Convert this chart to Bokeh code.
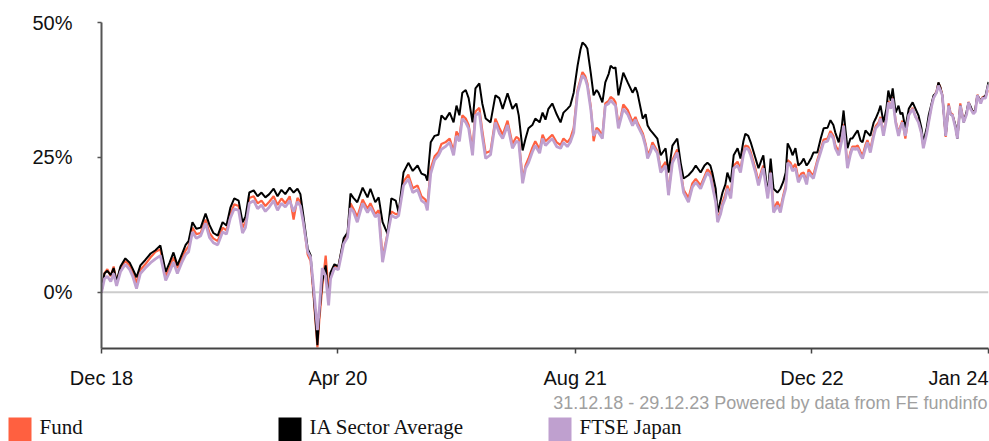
from bokeh.plotting import figure
from bokeh.models import Range1d, FixedTicker, Span
from bokeh.core.properties import value
from bokeh.embed import file_html
from bokeh.resources import INLINE
import pandas as pd

# ---------------- data ----------------
start_date = "2018-12-31"
end_date = "2023-12-29"

# days since start_date
days = [
    0, 6, 12, 19, 25, 31, 39, 49, 58, 64,
    72, 80, 90, 101, 111, 121, 132, 140, 148, 156,
    165, 173, 179, 187, 195, 204, 214, 222, 230, 239,
    249, 257, 265, 273, 282, 290, 296, 304, 313, 321,
    329, 337, 345, 354, 362, 370, 378, 387, 395, 403,
    409, 415, 424, 430, 436, 444, 448, 454, 461, 467,
    471, 479, 487, 498, 506, 512, 518, 526, 537, 547,
    553, 563, 570, 578, 588, 596, 605, 611, 621, 631,
    640, 650, 658, 666, 670, 677, 685, 693, 699, 707,
    716, 724, 730, 736, 742, 749, 755, 763, 769, 777,
    783, 790, 800, 810, 818, 825, 835, 845, 853, 858,
    866, 872, 878, 886, 892, 901, 907, 913, 919, 927,
    936, 944, 950, 958, 964, 971, 979, 985, 989, 995,
    999, 1006, 1012, 1018, 1022, 1030, 1036, 1043, 1047, 1053,
    1057, 1063, 1069, 1073, 1082, 1092, 1098, 1102, 1113, 1119,
    1123, 1129, 1133, 1143, 1150, 1160, 1166, 1174, 1184, 1191,
    1197, 1207, 1215, 1222, 1232, 1240, 1246, 1252, 1256, 1263,
    1267, 1273, 1277, 1283, 1287, 1294, 1300, 1308, 1314, 1320,
    1324, 1330, 1335, 1345, 1351, 1357, 1361, 1370, 1376, 1382,
    1390, 1396, 1402, 1407, 1411, 1417, 1421, 1427, 1433, 1439,
    1444, 1450, 1454, 1460, 1464, 1472, 1479, 1485, 1493, 1499,
    1505, 1509, 1516, 1522, 1526, 1530, 1534, 1540, 1544, 1551,
    1555, 1561, 1565, 1571, 1575, 1581, 1588, 1592, 1598, 1602,
    1608, 1614, 1618, 1623, 1627, 1633, 1639, 1643, 1647, 1653,
    1660, 1668, 1674, 1680, 1686, 1690, 1697, 1701, 1707, 1711,
    1717, 1721, 1725, 1729, 1736, 1742, 1746, 1750, 1756, 1760,
    1766, 1773, 1779, 1783, 1787, 1793, 1797, 1801, 1808, 1812,
    1818, 1824,
]

sector_avg = [
    0, 3.5, 4.0, 3.2, 4.5, 2.0, 4.8, 6.3, 5.5, 4.4,
    2.8, 5.0, 6.0, 7.2, 7.8, 8.7, 3.8, 5.5, 7.4, 5.0,
    7.0, 8.8, 9.5, 13.0, 11.8, 12.0, 14.6, 12.5, 11.0, 10.5,
    13.0, 12.4, 15.7, 17.4, 17.0, 13.0, 14.0, 18.5, 18.9, 17.8,
    18.5, 17.6, 18.2, 19.2, 17.8, 19.0, 18.2, 19.4, 18.5, 19.2,
    18.2, 14.3, 8.1, 6.9, 0.0, -9.8, -4.0, 2.0, 5.0, -1.5,
    3.7, 5.2, 4.8, 10.0, 11.1, 18.3, 17.5, 16.7, 19.4, 17.6,
    19.2, 16.7, 17.6, 13.0, 10.9, 17.4, 17.0, 14.8, 22.2, 24.0,
    22.5, 23.5, 22.0, 21.7, 20.7, 27.8, 29.0, 29.2, 32.8, 32.0,
    33.3, 31.5, 34.6, 32.8, 37.0, 37.5, 36.0, 31.5, 37.8, 38.7,
    35.0, 32.2, 31.5, 36.5, 36.0, 34.0, 36.9, 34.0, 35.0, 32.8,
    26.3, 28.5, 30.4, 31.0, 32.2, 31.5, 33.3, 32.0, 34.0, 35.0,
    33.0, 31.5, 33.3, 34.0, 34.6, 37.0, 42.0, 45.0, 46.3, 45.8,
    45.2, 40.7, 36.5, 37.5, 37.0, 35.2, 38.9, 40.5, 42.0, 41.5,
    41.7, 36.5, 39.0, 40.7, 38.9, 37.0, 38.0, 37.0, 32.2, 33.0,
    30.9, 30.0, 29.6, 28.5, 25.4, 26.7, 22.2, 27.2, 28.5, 24.0,
    21.1, 21.7, 22.5, 23.5, 22.2, 23.5, 24.0, 23.5, 22.2, 19.2,
    14.8, 17.0, 18.5, 20.0, 22.2, 20.4, 25.4, 26.7, 24.8, 28.0,
    29.4, 29.0, 27.8, 24.8, 23.0, 24.5, 25.4, 18.0, 24.8, 19.2,
    18.5, 19.2, 20.5, 22.2, 27.6, 26.5, 25.4, 26.7, 23.5, 24.0,
    24.8, 23.5, 24.0, 25.0, 25.9, 25.9, 28.5, 30.4, 30.5, 31.9,
    31.0, 29.6, 27.8, 30.5, 33.7, 30.0, 26.7, 28.5, 28.5, 29.5,
    30.0, 28.1, 27.8, 30.0, 29.6, 29.0, 31.5, 32.2, 33.5, 34.6,
    31.5, 34.0, 37.4, 35.5, 37.8, 33.3, 34.6, 33.0, 33.3, 30.4,
    34.0, 35.2, 34.0, 32.8, 30.5, 27.8, 30.5, 32.8, 35.0, 36.5,
    37.0, 38.9, 38.0, 36.5, 29.0, 34.6, 33.0, 32.8, 31.0, 28.5,
    34.6, 31.5, 33.5, 35.2, 34.5, 33.1, 34.0, 36.5, 35.5, 36.0,
    36.5, 39.0,
]

ftse_japan = [
    0, 2.5, 3.0, 2.0, 3.5, 1.2, 3.8, 5.2, 4.2, 3.0,
    0.7, 3.5, 4.5, 5.5, 6.2, 6.8, 2.2, 3.8, 5.6, 3.5,
    5.5, 7.0, 7.5, 11.2, 10.0, 10.5, 12.8, 10.2, 9.2, 8.8,
    11.2, 10.8, 13.8, 15.5, 15.2, 11.0, 12.0, 16.5, 17.0, 15.5,
    16.2, 15.0, 15.8, 17.0, 15.2, 16.5, 15.8, 17.0, 15.0, 16.8,
    16.0, 13.0, 7.5, 6.5, 1.0, -7.0, -3.0, 4.5, 3.0, -2.4,
    2.5, 4.5, 4.2, 9.0, 10.2, 15.6, 15.0, 13.0, 16.5, 14.8,
    15.8, 14.0, 14.5, 5.6, 10.5, 14.3, 13.8, 14.2, 19.8, 21.0,
    18.5, 19.0, 17.0, 16.5, 15.2, 22.0, 24.5, 25.4, 26.5, 27.0,
    27.8, 25.4, 29.0, 28.0, 32.2, 31.5, 30.4, 25.4, 32.8, 33.3,
    29.0, 24.8, 25.5, 31.5, 29.5, 28.5, 31.0, 26.7, 28.0, 27.8,
    20.2, 23.0, 24.0, 26.0, 27.2, 25.8, 28.5, 27.2, 27.8, 28.5,
    27.0, 26.7, 27.8, 27.0, 27.8, 29.6, 37.0, 39.0, 40.2, 39.5,
    38.3, 34.0, 29.0, 30.0, 29.6, 28.5, 34.6, 35.0, 35.6, 35.0,
    34.6, 30.4, 32.5, 34.0, 33.0, 30.9, 32.0, 31.0, 29.0, 27.0,
    24.8, 26.0, 27.2, 25.8, 22.2, 23.5, 18.0, 24.0, 25.9, 22.0,
    18.5, 16.7, 19.5, 20.4, 19.2, 21.0, 22.2, 21.5, 19.8, 16.7,
    13.0, 14.5, 16.1, 17.5, 19.2, 17.4, 23.0, 23.5, 22.2, 25.5,
    26.7, 26.5, 25.4, 22.2, 19.8, 22.0, 23.0, 17.4, 22.2, 14.8,
    16.1, 14.8, 17.5, 19.2, 24.0, 23.5, 22.5, 23.0, 20.4, 21.5,
    21.7, 20.0, 22.2, 21.5, 21.1, 24.0, 26.0, 27.8, 28.0, 29.4,
    28.5, 26.7, 25.4, 28.0, 30.9, 27.0, 23.0, 25.5, 26.7, 26.5,
    26.7, 25.4, 24.8, 26.7, 27.8, 25.9, 29.0, 30.4, 31.0, 32.2,
    29.0, 32.0, 35.2, 34.0, 35.9, 31.5, 29.0, 30.5, 31.5, 29.0,
    32.8, 34.0, 32.5, 31.5, 29.5, 26.7, 29.5, 31.5, 34.5, 36.0,
    37.0, 38.3, 37.5, 36.5, 29.0, 34.6, 33.0, 32.8, 30.5, 28.5,
    34.6, 31.5, 33.0, 35.2, 34.0, 33.1, 33.5, 36.5, 35.0, 36.0,
    36.0, 38.5,
]

fund = [
    0, 3.5, 4.3, 3.0, 4.8, 1.8, 4.5, 5.8, 5.0, 3.8,
    1.8, 4.2, 5.2, 6.5, 7.5, 8.0, 3.0, 4.5, 6.5, 4.5,
    6.2, 7.8, 8.5, 12.0, 10.8, 11.0, 13.5, 11.0, 10.0, 9.5,
    12.0, 11.5, 14.6, 16.3, 16.0, 12.0, 13.0, 17.5, 17.8, 16.5,
    17.0, 16.0, 16.8, 17.8, 16.2, 17.4, 16.5, 17.8, 13.5, 17.5,
    16.8, 13.2, 7.0, 5.8, -0.5, -10.2, -5.0, 1.0, 6.8, 0.0,
    3.5, 5.0, 4.6, 9.5, 10.6, 16.5, 15.5, 14.0, 17.2, 15.5,
    16.5, 14.5, 15.2, 6.5, 10.8, 15.0, 14.5, 14.6, 20.5, 21.8,
    19.3, 19.8, 17.8, 17.2, 16.0, 23.0, 25.2, 26.0, 27.5, 27.8,
    28.5, 26.2, 29.8, 28.8, 32.8, 32.2, 31.0, 26.5, 33.5, 34.2,
    30.0, 25.8, 26.2, 32.2, 30.5, 29.2, 31.8, 27.5, 28.8, 28.5,
    21.0, 23.5, 24.8, 26.8, 28.0, 26.5, 29.2, 28.0, 28.5, 29.2,
    27.8, 27.3, 28.5, 27.8, 28.5, 30.5, 37.5, 39.5, 40.8, 40.0,
    38.8, 34.5, 28.0, 30.5, 30.2, 29.0, 35.0, 35.5, 36.2, 35.8,
    35.2, 31.0, 33.0, 34.8, 33.8, 31.6, 32.5, 31.5, 29.5, 27.5,
    25.5, 26.5, 27.8, 26.2, 22.8, 24.2, 18.5, 24.5, 26.5, 22.5,
    19.0, 17.5, 20.2, 21.0, 19.8, 21.5, 22.8, 22.2, 20.5, 17.2,
    13.5, 15.0, 16.6, 18.2, 19.8, 18.0, 23.5, 24.2, 22.8, 26.0,
    27.2, 27.0, 26.0, 22.8, 20.5, 22.5, 23.5, 17.8, 22.8, 15.5,
    16.8, 15.5, 18.0, 19.8, 24.5, 24.0, 23.0, 23.8, 21.0, 22.0,
    22.2, 20.5, 22.8, 22.0, 21.8, 24.5, 26.5, 28.3, 28.5, 29.9,
    29.0, 27.3, 26.0, 28.5, 31.2, 27.5, 23.5, 26.0, 27.0, 27.0,
    27.2, 26.0, 25.3, 27.3, 28.2, 26.5, 29.5, 30.8, 31.5, 32.5,
    29.5, 32.3, 35.5, 34.2, 36.2, 31.8, 29.5, 30.8, 31.8, 28.5,
    33.0, 34.2, 32.5, 31.8, 29.6, 27.0, 29.8, 31.8, 34.7, 36.2,
    37.2, 38.8, 38.0, 36.6, 28.8, 35.0, 33.2, 33.0, 30.7, 28.6,
    35.0, 31.6, 33.2, 35.3, 34.2, 33.3, 33.8, 36.6, 35.3, 36.2,
    36.3, 37.5,
]

tick_dates = ["2018-12-31", "2020-04-30", "2021-08-31", "2022-12-31", "2023-12-29"]
tick_labels = ["Dec 18", "Apr 20", "Aug 21", "Dec 22", "Jan 24"]
y_ticks = [0, 25, 50]
y_labels = ["0%", "25%", "50%"]
series_names = ["Fund", "IA Sector Average", "FTSE Japan"]
footer_text = "31.12.18 - 29.12.23 Powered by data from FE fundinfo"

# ---------------- styling / layout ----------------
C_FUND = "#ff6040"
C_SECTOR = "#000000"
C_FTSE = "#bfa0cf"
SANS = "Liberation Sans"
SERIF = "Liberation Serif"
TXT = "#111111"

W = 989
H_MAIN = 360
H_STRIP = 81
LEFT = 101
RIGHT = 1
TOP = 22
FRAME_H = 326
Y_MIN, Y_MAX = -10.4, 50

t0 = pd.Timestamp(start_date)
total_days = (pd.Timestamp(end_date) - t0).days
tick_days = [(pd.Timestamp(d) - t0).days for d in tick_dates]
frame_w = W - LEFT - RIGHT
px_per_day = frame_w / total_days

# ---------------- main chart ----------------
p = figure(width=W, height=H_MAIN, output_backend="svg", toolbar_location=None,
           title=None,
           x_range=Range1d(0, total_days), y_range=Range1d(Y_MIN, Y_MAX),
           min_border_left=LEFT, min_border_right=RIGHT, min_border_top=TOP,
           min_border_bottom=H_MAIN - TOP - FRAME_H)
p.outline_line_color = None
p.grid.visible = False
p.background_fill_color = "white"
p.border_fill_color = "white"

p.add_layout(Span(location=0, dimension="width", line_color="#cccccc",
                  line_width=2, level="underlay"))

p.line(days, fund, line_color=C_FUND, line_width=2.2)
p.line(days, sector_avg, line_color=C_SECTOR, line_width=2)
p.line(days, ftse_japan, line_color=C_FTSE, line_width=2.8)

xa = p.xaxis[0]
xa.ticker = FixedTicker(ticks=tick_days)
xa.major_label_overrides = {d: "" for d in tick_days}
xa.major_label_text_font_size = "0px"
xa.major_label_standoff = 0
xa.axis_line_color = "#444444"
xa.axis_line_width = 2
xa.major_tick_line_color = "#444444"
xa.major_tick_line_width = 1.5
xa.major_tick_out = 5
xa.major_tick_in = 0
xa.minor_tick_line_color = None

ya = p.yaxis[0]
ya.ticker = FixedTicker(ticks=y_ticks)
ya.major_label_overrides = {v: lab for v, lab in zip(y_ticks, y_labels)}
ya.axis_line_color = "#555555"
ya.axis_line_width = 2
ya.major_tick_line_color = "#555555"
ya.major_tick_line_width = 1.5
ya.major_tick_out = 4
ya.major_tick_in = 0
ya.minor_tick_line_color = None
ya.major_label_text_font = SANS
ya.major_label_text_font_size = "20px"
ya.major_label_text_color = TXT
ya.major_label_standoff = 25

# ---------------- strip below: x tick labels, footer, legend ----------------
strip = figure(width=W, height=H_STRIP, output_backend="svg", toolbar_location=None,
               title=None,
               x_range=Range1d(0, W), y_range=Range1d(H_STRIP, 0),
               x_axis_location=None, y_axis_location=None,
               min_border=0, min_border_left=0, min_border_right=0,
               min_border_top=0, min_border_bottom=0)
strip.grid.visible = False
strip.outline_line_color = None
strip.border_fill_color = "white"
# same day -> pixel mapping as the main chart's x scale
strip.extra_x_ranges = {"days": Range1d(-LEFT / px_per_day, (W - LEFT) / px_per_day)}

strip.text(x=tick_days[:-1], y=[17] * (len(tick_days) - 1), text=tick_labels[:-1],
           x_range_name="days", text_align="center", text_baseline="alphabetic",
           text_font=value(SANS), text_font_size="20px", text_color=TXT)
strip.text(x=[tick_days[-1]], y=[17], text=[tick_labels[-1]],
           x_range_name="days", text_align="right", text_baseline="alphabetic",
           text_font=value(SANS), text_font_size="20px", text_color=TXT)

strip.text(x=[W - 2], y=[42], text=[footer_text], text_align="right",
           text_baseline="alphabetic", text_font=value(SANS), text_font_size="18px",
           text_color="#a0a0a0")

sq_left = [8, 278, 548]
strip.quad(left=sq_left, right=[v + 23 for v in sq_left], top=[57] * 3, bottom=[81] * 3,
           fill_color=[C_FUND, C_SECTOR, C_FTSE], line_color=None)
strip.text(x=[v + 31 for v in sq_left], y=[66] * 3, text=series_names,
           text_align="left", text_baseline="alphabetic", text_font=value(SERIF),
           text_font_size="21px", text_color=TXT)

# two separate roots, stacked by the page flow (no frame alignment between them)
open("out.html", "w").write(file_html((p, strip), INLINE))
